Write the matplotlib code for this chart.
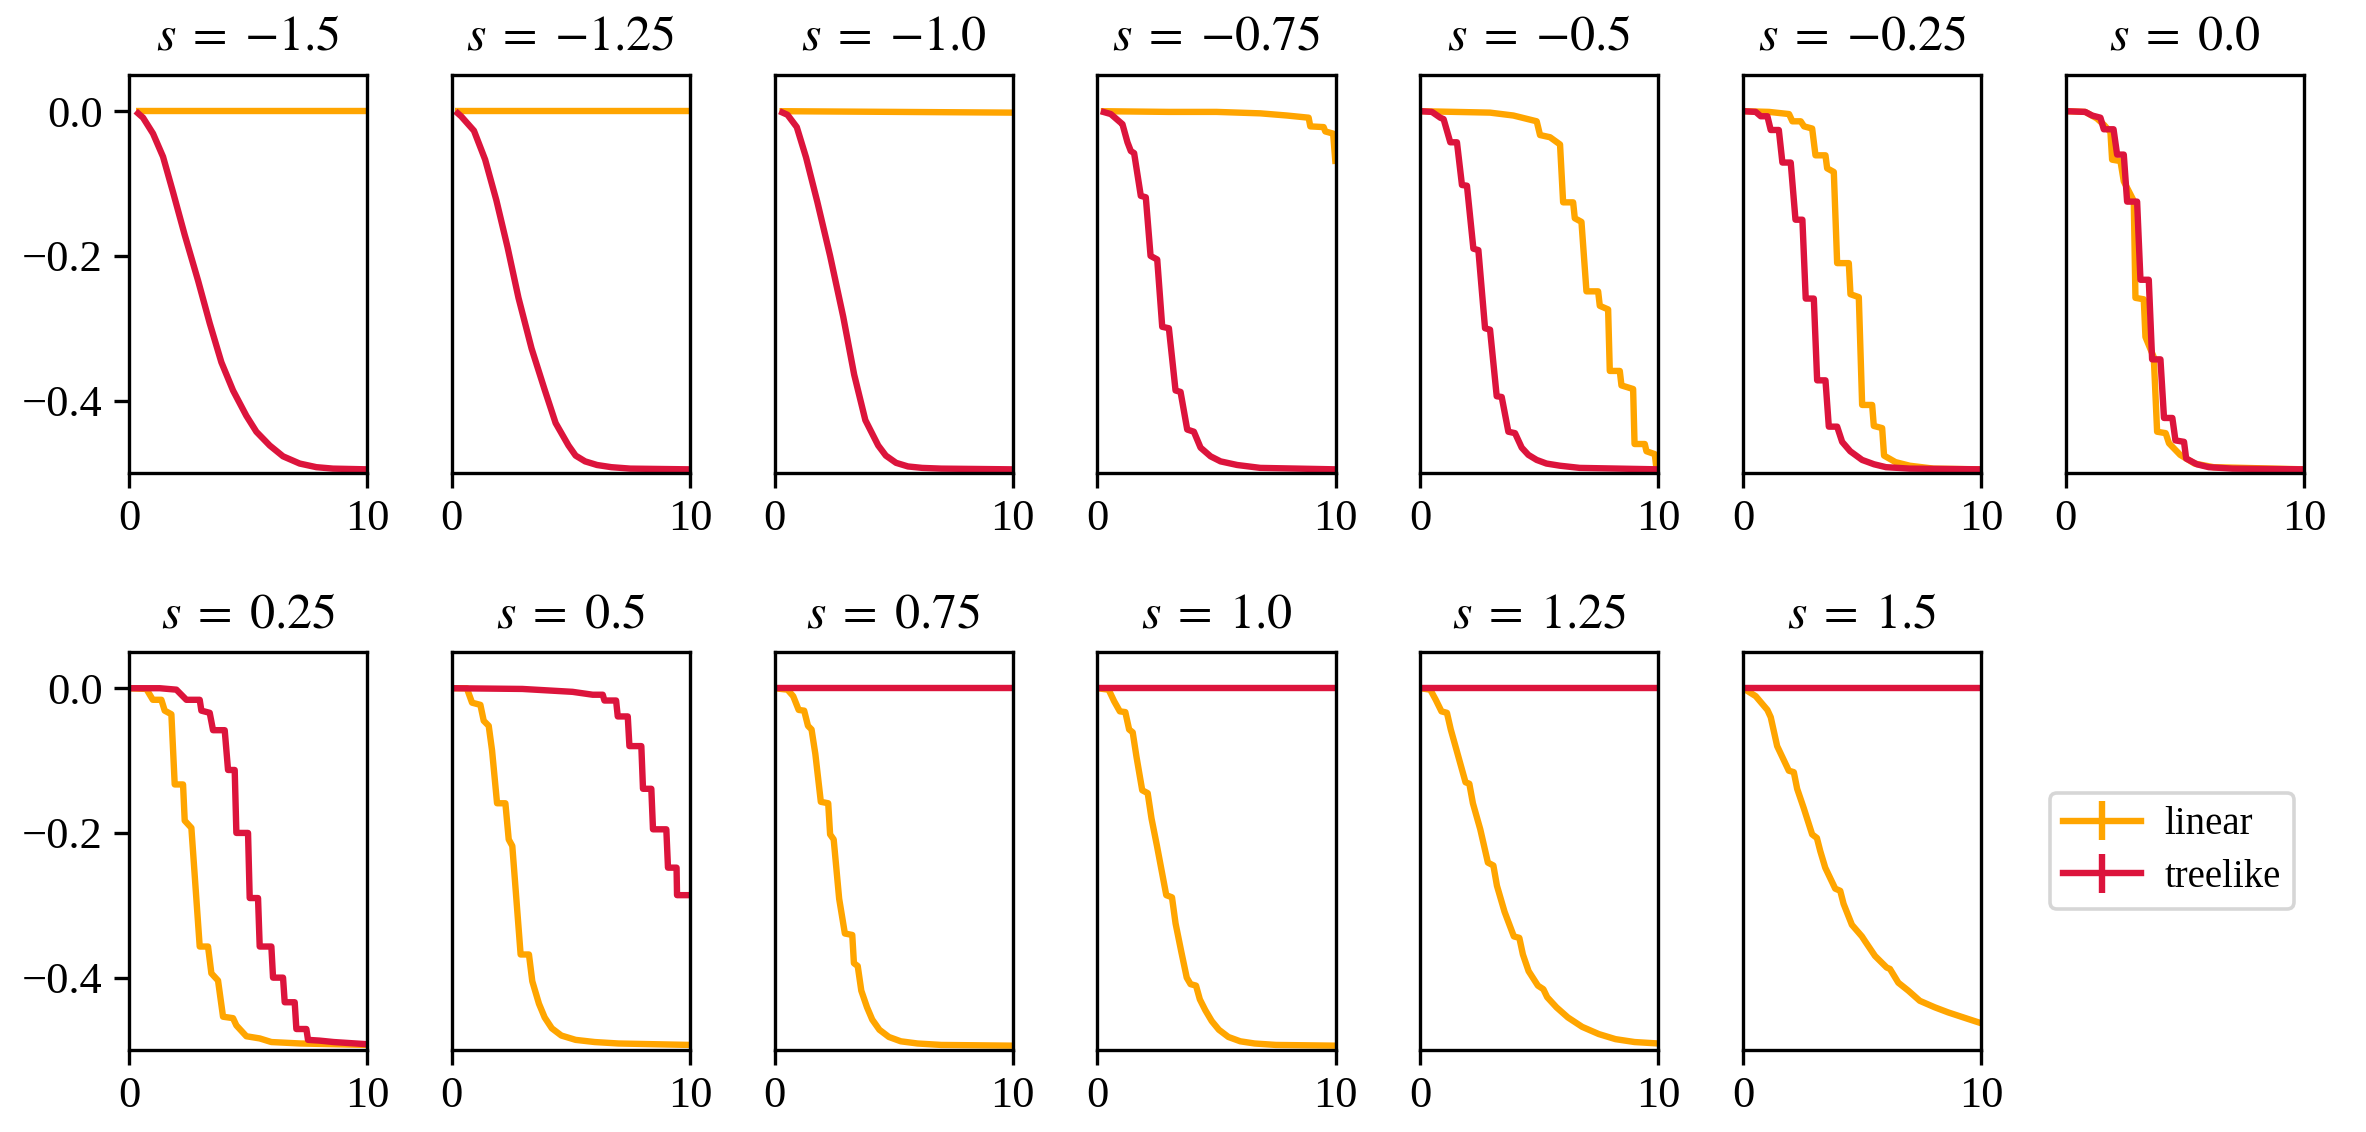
import numpy as np
import matplotlib
matplotlib.use("Agg")
import matplotlib.pyplot as plt

plt.rcParams.update({
    "font.family": "serif",
    "font.serif": ["Liberation Serif", "DejaVu Serif"],
    "mathtext.fontset": "stix",
    "axes.linewidth": 1.2,
})

LIN_COLOR = "#FFA500"
TREE_COLOR = "#DC143C"

s_values = [-1.5, -1.25, -1.0, -0.75, -0.5, -0.25, 0.0, 0.25, 0.5, 0.75, 1.0, 1.25, 1.5]

# ---- s = -1.5
lin_x_m150 = [0.28, 10]
lin_y_m150 = [0, 0]
tree_x_m150 = [0.28, 0.59, 1.01, 1.43, 1.85, 2.34, 2.9, 3.39, 3.88, 4.37, 4.93, 5.35, 5.91, 6.47, 7.17, 7.87, 8.57, 10]
tree_y_m150 = [0, -0.009, -0.031, -0.063, -0.112, -0.171, -0.234, -0.293, -0.347, -0.386, -0.421, -0.443,
               -0.462, -0.477, -0.487, -0.492, -0.494, -0.495]
# ---- s = -1.25
lin_x_m125 = [0.15, 10]
lin_y_m125 = [0, 0]
tree_x_m125 = [0.15, 0.39, 0.93, 1.4, 1.87, 2.34, 2.8, 3.35, 3.9, 4.36, 4.9, 5.2, 5.6, 6.1, 6.7, 7.5, 10]
tree_y_m125 = [0, -0.007, -0.027, -0.067, -0.123, -0.188, -0.258, -0.328, -0.385, -0.431, -0.462, -0.476,
               -0.484, -0.489, -0.492, -0.494, -0.495]
# ---- s = -1.0
lin_x_m100 = [0.2, 10]
lin_y_m100 = [0, -0.002]
tree_x_m100 = [0.2, 0.54, 0.93, 1.32, 1.79, 2.33, 2.88, 3.34, 3.81, 4.35, 4.67, 5.1, 5.6, 6.2, 7.0, 10]
tree_y_m100 = [0, -0.005, -0.022, -0.064, -0.125, -0.2, -0.284, -0.364, -0.427, -0.462, -0.476, -0.486,
               -0.491, -0.493, -0.494, -0.495]
# ---- s = -0.75
lin_x_m075 = [0.14, 3.0, 5.0, 6.84, 7.96, 8.87, 8.94, 9.5, 9.57, 9.9, 10]
lin_y_m075 = [0, -0.001, -0.001, -0.003, -0.006, -0.009, -0.021, -0.022, -0.028, -0.031, -0.073]
tree_x_m075 = [0.14, 0.56, 0.98, 1.05, 1.26, 1.4, 1.54, 1.82, 2.03, 2.23, 2.51, 2.72, 3.0, 3.28, 3.49, 3.77,
               4.05, 4.33, 4.75, 5.17, 5.87, 6.84, 10]
tree_y_m075 = [0, -0.004, -0.016, -0.018, -0.043, -0.055, -0.058, -0.117, -0.119, -0.2, -0.205, -0.298, -0.3,
               -0.386, -0.388, -0.44, -0.443, -0.465, -0.477, -0.484, -0.489, -0.493, -0.495]
# ---- s = -0.5
lin_x_m050 = [0, 2.93, 3.91, 4.89, 5.03, 5.45, 5.87, 6.0, 6.42, 6.49, 6.77, 6.98, 7.47, 7.54, 7.89, 7.96,
              8.38, 8.45, 8.94, 9.0, 9.43, 9.5, 9.85, 9.92, 10]
lin_y_m050 = [0, -0.002, -0.006, -0.014, -0.033, -0.036, -0.046, -0.126, -0.126, -0.148, -0.153, -0.249,
              -0.249, -0.269, -0.274, -0.359, -0.359, -0.379, -0.384, -0.46, -0.46, -0.47, -0.474, -0.494, -0.495]
tree_x_m050 = [0, 0.49, 0.84, 0.98, 1.26, 1.54, 1.75, 1.96, 2.23, 2.44, 2.72, 2.93, 3.21, 3.42, 3.7, 3.98,
               4.26, 4.54, 4.89, 5.3, 5.87, 6.7, 10]
tree_y_m050 = [0, -0.001, -0.009, -0.011, -0.043, -0.043, -0.102, -0.103, -0.19, -0.192, -0.3, -0.302,
               -0.394, -0.395, -0.443, -0.445, -0.465, -0.475, -0.482, -0.487, -0.49, -0.493, -0.495]
# ---- s = -0.25
lin_x_m025 = [0, 1.09, 1.93, 2.07, 2.42, 2.56, 2.9, 3.04, 3.46, 3.53, 3.81, 3.95, 4.44, 4.51, 4.86, 5.0,
              5.42, 5.49, 5.84, 5.92, 6.4, 7.0, 8.0, 10]
lin_y_m025 = [0, -0.001, -0.004, -0.014, -0.014, -0.021, -0.024, -0.061, -0.061, -0.079, -0.084, -0.21,
              -0.21, -0.253, -0.257, -0.406, -0.406, -0.435, -0.438, -0.476, -0.485, -0.49, -0.494, -0.495]
tree_x_m025 = [0, 0.53, 0.74, 1.02, 1.16, 1.5, 1.65, 2.0, 2.2, 2.49, 2.63, 2.97, 3.11, 3.46, 3.6, 3.95,
               4.16, 4.5, 5.0, 5.5, 6.0, 7.0, 10]
tree_y_m025 = [0, -0.001, -0.007, -0.007, -0.026, -0.026, -0.071, -0.071, -0.15, -0.15, -0.259, -0.259,
               -0.372, -0.372, -0.436, -0.436, -0.457, -0.47, -0.482, -0.488, -0.492, -0.494, -0.495]
# ---- s = 0.0
lin_x_000 = [0, 0.81, 1.3, 1.6, 1.87, 1.94, 2.29, 2.43, 2.85, 2.92, 3.27, 3.34, 3.69, 3.83, 4.19, 4.33,
             4.8, 5.4, 6.2, 10]
lin_y_000 = [0, -0.001, -0.01, -0.019, -0.029, -0.067, -0.069, -0.097, -0.124, -0.258, -0.26, -0.312,
             -0.34, -0.443, -0.445, -0.459, -0.475, -0.487, -0.492, -0.495]
tree_x_000 = [0, 0.81, 1.1, 1.45, 1.59, 2.0, 2.15, 2.43, 2.57, 2.99, 3.13, 3.48, 3.62, 3.97, 4.12, 4.47,
              4.6, 4.96, 5.05, 5.5, 6.0, 7.0, 10]
tree_y_000 = [0, -0.001, -0.006, -0.009, -0.025, -0.025, -0.06, -0.06, -0.125, -0.125, -0.233, -0.233,
              -0.343, -0.343, -0.424, -0.424, -0.455, -0.457, -0.48, -0.488, -0.492, -0.494, -0.495]
# ---- s = 0.25
lin_x_p025 = [0, 0.73, 1.0, 1.36, 1.5, 1.78, 1.92, 2.27, 2.34, 2.62, 2.97, 3.32, 3.46, 3.74, 3.95, 4.37,
              4.51, 4.93, 5.49, 5.98, 7.2, 10]
lin_y_p025 = [0, -0.001, -0.016, -0.016, -0.031, -0.036, -0.133, -0.133, -0.183, -0.193, -0.357, -0.357,
              -0.394, -0.404, -0.454, -0.456, -0.466, -0.481, -0.484, -0.489, -0.491, -0.493]
tree_x_p025 = [0, 1.29, 1.99, 2.41, 2.97, 3.04, 3.39, 3.53, 4.02, 4.16, 4.44, 4.51, 5.0, 5.07, 5.42, 5.49,
               5.98, 6.05, 6.47, 6.54, 6.96, 7.03, 7.45, 7.52, 8.0, 8.6, 10]
tree_y_p025 = [0, 0, -0.002, -0.016, -0.016, -0.031, -0.034, -0.058, -0.058, -0.113, -0.113, -0.2, -0.2,
               -0.29, -0.29, -0.357, -0.357, -0.4, -0.4, -0.434, -0.434, -0.471, -0.471, -0.486, -0.487,
               -0.489, -0.492]
# ---- s = 0.5
lin_x_p050 = [0, 0.63, 0.85, 1.2, 1.34, 1.55, 1.69, 1.9, 2.25, 2.39, 2.54, 2.89, 3.24, 3.38, 3.66, 3.9,
              4.2, 4.6, 5.2, 6.0, 7.0, 10]
lin_y_p050 = [0, 0, -0.02, -0.023, -0.045, -0.052, -0.086, -0.159, -0.159, -0.209, -0.218, -0.368, -0.368,
              -0.405, -0.436, -0.455, -0.47, -0.48, -0.486, -0.489, -0.491, -0.493]
tree_x_p050 = [0, 2.96, 5.07, 5.92, 6.34, 6.41, 6.9, 6.97, 7.39, 7.46, 7.96, 8.03, 8.38, 8.45, 9.01, 9.08,
               9.44, 9.46, 10]
tree_y_p050 = [0, -0.001, -0.005, -0.009, -0.009, -0.017, -0.017, -0.039, -0.039, -0.08, -0.08, -0.139,
               -0.139, -0.195, -0.195, -0.248, -0.248, -0.286, -0.286]
# ---- s = 0.75
lin_x_p075 = [0, 0.54, 0.78, 1.01, 1.24, 1.4, 1.55, 1.71, 1.94, 2.25, 2.33, 2.48, 2.71, 2.95, 3.26, 3.33,
              3.49, 3.64, 3.88, 4.1, 4.4, 4.8, 5.3, 6.0, 7.0, 10]
lin_y_p075 = [0, -0.002, -0.011, -0.03, -0.031, -0.052, -0.057, -0.091, -0.157, -0.159, -0.202, -0.209,
              -0.291, -0.339, -0.341, -0.38, -0.384, -0.418, -0.441, -0.458, -0.472, -0.482, -0.488, -0.491,
              -0.493, -0.494]
tree_x_p075 = [0, 10]
tree_y_p075 = [0, 0]
# ---- s = 1.0
lin_x_p100 = [0, 0.47, 0.7, 0.94, 1.17, 1.33, 1.48, 1.64, 1.88, 2.11, 2.27, 2.5, 2.89, 3.13, 3.28, 3.52,
              3.75, 3.91, 4.14, 4.3, 4.53, 4.8, 5.1, 5.5, 6.0, 6.6, 7.5, 10]
lin_y_p100 = [0, -0.002, -0.018, -0.032, -0.033, -0.057, -0.061, -0.095, -0.141, -0.145, -0.18, -0.218,
              -0.286, -0.289, -0.325, -0.364, -0.4, -0.409, -0.411, -0.43, -0.445, -0.46, -0.472, -0.482,
              -0.488, -0.491, -0.493, -0.494]
tree_x_p100 = [0, 10]
tree_y_p100 = [0, 0]
# ---- s = 1.25
lin_x_p125 = [0, 0.42, 0.65, 0.89, 1.12, 1.28, 1.51, 1.9, 2.06, 2.21, 2.52, 2.84, 3.07, 3.22, 3.54, 3.93,
              4.16, 4.31, 4.55, 4.94, 5.17, 5.33, 5.72, 6.2, 6.8, 7.5, 8.2, 9.0, 10]
lin_y_p125 = [0, -0.002, -0.016, -0.032, -0.034, -0.057, -0.084, -0.13, -0.132, -0.159, -0.195, -0.241,
              -0.245, -0.273, -0.309, -0.343, -0.345, -0.368, -0.391, -0.411, -0.416, -0.427, -0.441, -0.455,
              -0.468, -0.478, -0.485, -0.489, -0.491]
tree_x_p125 = [0, 10]
tree_y_p125 = [0, 0]
# ---- s = 1.5
lin_x_p150 = [0, 0.53, 1.02, 1.16, 1.43, 1.92, 2.13, 2.27, 2.55, 2.9, 3.1, 3.24, 3.45, 3.87, 4.08, 4.22,
              4.57, 4.99, 5.13, 5.54, 6.03, 6.17, 6.52, 6.94, 7.42, 8.05, 8.61, 9.44, 10]
lin_y_p150 = [0, -0.011, -0.03, -0.04, -0.08, -0.114, -0.116, -0.139, -0.166, -0.202, -0.207, -0.225,
              -0.248, -0.277, -0.28, -0.298, -0.327, -0.343, -0.35, -0.37, -0.386, -0.388, -0.407, -0.418,
              -0.432, -0.441, -0.448, -0.457, -0.463]
tree_x_p150 = [0, 10]
tree_y_p150 = [0, 0]

panels = [
    (lin_x_m150, lin_y_m150, tree_x_m150, tree_y_m150),
    (lin_x_m125, lin_y_m125, tree_x_m125, tree_y_m125),
    (lin_x_m100, lin_y_m100, tree_x_m100, tree_y_m100),
    (lin_x_m075, lin_y_m075, tree_x_m075, tree_y_m075),
    (lin_x_m050, lin_y_m050, tree_x_m050, tree_y_m050),
    (lin_x_m025, lin_y_m025, tree_x_m025, tree_y_m025),
    (lin_x_000, lin_y_000, tree_x_000, tree_y_000),
    (lin_x_p025, lin_y_p025, tree_x_p025, tree_y_p025),
    (lin_x_p050, lin_y_p050, tree_x_p050, tree_y_p050),
    (lin_x_p075, lin_y_p075, tree_x_p075, tree_y_p075),
    (lin_x_p100, lin_y_p100, tree_x_p100, tree_y_p100),
    (lin_x_p125, lin_y_p125, tree_x_p125, tree_y_p125),
    (lin_x_p150, lin_y_p150, tree_x_p150, tree_y_p150),
]

x_ticks = [0, 10]
y_ticks = [0.0, -0.2, -0.4]

W, H = 2366, 1132
fig = plt.figure(figsize=(W / 200, H / 200), dpi=200)
gs = fig.add_gridspec(2, 7, left=129 / W, right=2304 / W, top=1 - 75 / H, bottom=1 - 1050 / H,
                      wspace=0.356, hspace=0.45)

LW = 2.3
for i, (s, (lx, ly, tx, ty)) in enumerate(zip(s_values, panels)):
    r, c = divmod(i, 7)
    ax = fig.add_subplot(gs[r, c])
    ax.plot(lx, ly, color=LIN_COLOR, lw=LW, solid_capstyle="butt")
    ax.plot(tx, ty, color=TREE_COLOR, lw=LW, solid_capstyle="butt")
    ax.set_xlim(0, 10)
    ax.set_ylim(-0.5, 0.05)
    ax.set_xticks(x_ticks)
    ax.tick_params(axis="both", direction="out", length=5.5, width=1.2, labelsize=16, pad=4)
    if c == 0:
        ax.set_yticks(y_ticks)
        ax.set_yticklabels([f"{v:.1f}".replace("-", "\u2212") for v in y_ticks])
    else:
        ax.set_yticks([])
    ax.set_title(r"$s\;=\;{" + f"{s}" + r"}$", fontsize=18, pad=9)

# legend handles in a hidden helper axis
hax = fig.add_axes([0, 0, 0.01, 0.01])
hax.set_axis_off()
h1 = hax.errorbar([np.nan], [np.nan], yerr=[np.nan], color=LIN_COLOR, lw=LW, elinewidth=LW)
h2 = hax.errorbar([np.nan], [np.nan], yerr=[np.nan], color=TREE_COLOR, lw=LW, elinewidth=LW)
leg = fig.legend([h1, h2], ["linear", "treelike"], loc="center",
                 bbox_to_anchor=(2172 / W, 1 - 851 / H), fontsize=14,
                 handletextpad=0.6, labelspacing=0.4, borderpad=0.35)
leg.get_frame().set_linewidth(1.3)

fig.savefig("out.png", dpi=200)
